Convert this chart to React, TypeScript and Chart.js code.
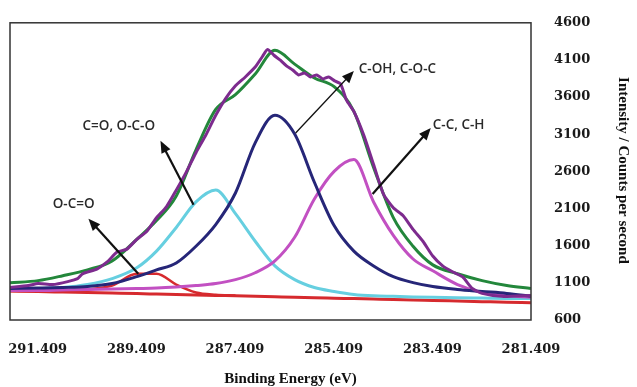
import React, { useEffect, useRef } from "react";
import { Chart, registerables } from "chart.js";

Chart.register(...registerables);

// Binding energy grid (eV) shared by the fitted curves
const energy = [291.97, 291.4, 290.9, 290.4, 289.9, 289.4, 289.0, 288.6, 288.2, 287.8, 287.4, 287.0, 286.6, 286.2, 285.8, 285.4, 285.0, 284.6, 284.2, 283.8, 283.4, 282.9, 282.4, 281.9, 281.41];

// Envelope fit (green)
const envelopeFit = [1100, 1130, 1196, 1275, 1395, 1686, 1938, 2269, 2891, 3434, 3633, 3911, 4229, 4044, 3858, 3740, 3408, 2653, 1978, 1593, 1342, 1222, 1130, 1064, 1024];
// C-OH, C-O-C component (navy)
const cohPeak = [1024, 1030, 1037, 1050, 1090, 1183, 1275, 1368, 1593, 1885, 2309, 2984, 3355, 3103, 2454, 1871, 1527, 1328, 1183, 1103, 1050, 1011, 984, 958, 918];
// C=O, O-C-O component (cyan)
const coPeak = [null, 1024, 1037, 1077, 1156, 1302, 1527, 1845, 2189, 2348, 2031, 1660, 1328, 1143, 1037, 984, 944, 925, 918, 911, 905, 899, 895, 891, 888];
// C-C, C-H component (magenta)
const ccPeak = [997, 997, 1004, 1011, 1017, 1024, 1030, 1044, 1064, 1090, 1143, 1236, 1395, 1713, 2229, 2600, 2759, 2189, 1739, 1421, 1262, 1077, 971, 931, 905];
// O-C=O component (red)
const ocoPeak = [990, 990, 997, 1011, 1064, 1222, 1222, 1077, 971, 940, 930, null, null, null, null, null, null, null, null, null, null, null, null, null, null];
// Background (red)
const background = [990, 983, 976, 969, 962, 955, 949, 943, 937, 931, 925, 919, 913, 907, 900, 894, 888, 882, 876, 869, 863, 855, 847, 839, 832];

// Raw measured spectrum (purple)
const rawEnergy = [291.97, 291.6, 291.4, 291.1, 290.8, 290.6, 290.5, 290.2, 290.0, 289.8, 289.6, 289.4, 289.2, 289.0, 288.8, 288.6, 288.4, 288.2, 288.0, 287.8, 287.6, 287.4, 287.2, 287.0, 286.85, 286.75, 286.62, 286.49, 286.36, 286.24, 286.12, 286.0, 285.88, 285.75, 285.63, 285.51, 285.39, 285.27, 285.15, 285.0, 284.8, 284.6, 284.4, 284.2, 284.0, 283.8, 283.6, 283.4, 283.2, 283.0, 282.8, 282.6, 282.4, 282.0, 281.41];
const rawCounts = [1037, 1064, 1090, 1077, 1117, 1156, 1222, 1289, 1381, 1514, 1554, 1686, 1792, 1977, 2123, 2348, 2587, 2852, 3090, 3355, 3580, 3752, 3871, 4004, 4150, 4242, 4163, 4097, 4017, 3964, 3898, 3925, 3871, 3898, 3845, 3871, 3818, 3779, 3560, 3408, 3090, 2693, 2295, 2110, 2004, 1819, 1660, 1461, 1328, 1249, 1183, 1024, 958, 918, 931];

const xTickValues = [291.409, 289.409, 287.409, 285.409, 283.409, 281.409];
const yTickValues = [600, 1100, 1600, 2100, 2600, 3100, 3600, 4100, 4600];

const xTitle = "Binding Energy (eV)";
const yTitle = "Intensity / Counts per second";

// Peak labels with arrows: [energy, counts]
const labels = [
  { text: "C-OH, C-O-C", from: [286.18, 3117], to: [285.0, 3951], at: [284.9, 3977], align: "left", lw: 1.3 },
  { text: "C-C, C-H", from: [284.62, 2295], to: [283.44, 3183], at: [283.4, 3223], align: "left", lw: 2.2 },
  { text: "C=O, O-C-O", from: [288.25, 2150], to: [288.92, 3011], at: [289.765, 3209], align: "center", lw: 2.2 },
  { text: "O-C=O", from: [289.37, 1223], to: [290.38, 1964], at: [290.68, 2163], align: "center", lw: 2.2 },
];

const pts = (xs: number[], ys: (number | null)[]) =>
  xs.map((x, i) => ({ x, y: ys[i] }));

const decor = {
  id: "decor",
  afterDatasetsDraw(chart: any) {
    const { ctx, chartArea: a, scales } = chart;
    const x = scales.x;
    const y = scales.y;
    ctx.save();
    // frame
    ctx.strokeStyle = "#333";
    ctx.lineWidth = 1.5;
    ctx.strokeRect(a.left, a.top, a.right - a.left, a.bottom - a.top);

    // arrows + labels
    for (const l of labels) {
      const x1 = x.getPixelForValue(l.from[0]);
      const y1 = y.getPixelForValue(l.from[1]);
      const x2 = x.getPixelForValue(l.to[0]);
      const y2 = y.getPixelForValue(l.to[1]);
      const ang = Math.atan2(y2 - y1, x2 - x1);
      const hl = 12;
      const hw = 5;
      ctx.strokeStyle = "#111";
      ctx.fillStyle = "#111";
      ctx.lineWidth = l.lw;
      ctx.beginPath();
      ctx.moveTo(x1, y1);
      ctx.lineTo(x2 - Math.cos(ang) * hl * 0.8, y2 - Math.sin(ang) * hl * 0.8);
      ctx.stroke();
      ctx.beginPath();
      ctx.moveTo(x2, y2);
      ctx.lineTo(
        x2 - Math.cos(ang) * hl + Math.sin(ang) * hw,
        y2 - Math.sin(ang) * hl - Math.cos(ang) * hw
      );
      ctx.lineTo(
        x2 - Math.cos(ang) * hl - Math.sin(ang) * hw,
        y2 - Math.sin(ang) * hl + Math.cos(ang) * hw
      );
      ctx.closePath();
      ctx.fill();

      ctx.font = '600 13.5px "Open Sans"';
      ctx.fillStyle = "#2a2a2a";
      ctx.textAlign = l.align;
      ctx.textBaseline = "middle";
      ctx.fillText(l.text, x.getPixelForValue(l.at[0]), y.getPixelForValue(l.at[1]));
    }

    // axis titles
    ctx.fillStyle = "#111";
    ctx.font = 'bold 15px "Liberation Serif"';
    ctx.textAlign = "center";
    ctx.textBaseline = "middle";
    ctx.fillText(xTitle, (a.left + a.right) / 2 + 20, chart.height - 8);
    ctx.translate(chart.width - 14, (a.top + a.bottom) / 2 - 1);
    ctx.rotate(Math.PI / 2);
    ctx.fillText(yTitle, 0, 0);
    ctx.restore();
  },
};

export default function App() {
  const ref = useRef<HTMLCanvasElement | null>(null);
  useEffect(() => {
    if (!ref.current) return;
    const line = (label: string, data: any[], color: string, width = 3, extra: any = {}) => ({
      label,
      data,
      borderColor: color,
      backgroundColor: color,
      borderWidth: width,
      pointRadius: 0,
      fill: false,
      cubicInterpolationMode: "monotone",
      spanGaps: false,
      ...extra,
    });
    const chart = new Chart(ref.current, {
      type: "line",
      data: {
        datasets: [
          line("Raw", pts(rawEnergy, rawCounts), "#7d2b8e", 3, { tension: 0.2, cubicInterpolationMode: "default" }),
          line("Envelope", pts(energy, envelopeFit), "#23873b", 3),
          line("C-OH, C-O-C", pts(energy, cohPeak), "#262678", 3),
          line("C-C, C-H", pts(energy, ccPeak), "#c250c2", 3),
          line("C=O, O-C-O", pts(energy, coPeak), "#66cfe0", 3),
          line("O-C=O", pts(energy, ocoPeak), "#d62a2e", 2.5),
          line("Background", pts(energy, background), "#d62a2e", 3),
        ] as any,
      },
      options: {
        animation: false,
        responsive: false,
        maintainAspectRatio: false,
        layout: { padding: { left: 10, top: 18, right: 0, bottom: 0 } },
        plugins: { legend: { display: false }, tooltip: { enabled: false } },
        scales: {
          x: {
            type: "linear",
            reverse: true,
            min: 281.409,
            max: 291.97,
            afterBuildTicks: (s: any) => {
              s.ticks = xTickValues.map((v) => ({ value: v }));
            },
            afterFit: (s: any) => {
              s.height = 67;
              s.paddingLeft = 0;
              s.paddingRight = 0;
            },
            grid: { display: false },
            border: { display: false },
            ticks: {
              autoSkip: false,
              maxRotation: 0,
              padding: 14,
              color: "#1a1a1a",
              font: { family: "DejaVu Serif", weight: "bold", size: 13 },
              callback: (v: any) => Number(v).toFixed(3),
            },
          },
          y: {
            type: "linear",
            position: "right",
            min: 600,
            max: 4600,
            afterBuildTicks: (s: any) => {
              s.ticks = yTickValues.map((v) => ({ value: v }));
            },
            afterFit: (s: any) => {
              s.width = 106;
            },
            grid: { display: false },
            border: { display: false },
            ticks: {
              padding: 15,
              color: "#1a1a1a",
              font: { family: "DejaVu Serif", weight: "bold", size: 13 },
              callback: (v: any) => String(v),
            },
          },
        },
      } as any,
      plugins: [decor],
    });
    return () => chart.destroy();
  }, []);
  return (
    <div style={{ position: "fixed", left: 0, top: 0, width: 637, height: 387, background: "#fff" }}>
      <canvas ref={ref} width={637} height={387} />
    </div>
  );
}
